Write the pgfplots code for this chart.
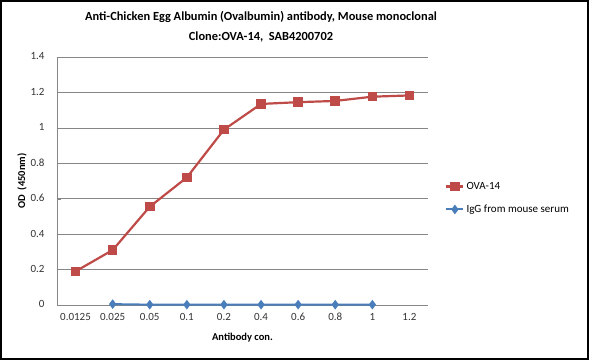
\documentclass[border=0pt]{standalone}
\usepackage{pgfplots}
\pgfplotsset{compat=1.18}
\usepackage{fontspec}
\setmainfont{Carlito}
\definecolor{exred}{HTML}{BE4B48}
\definecolor{exblue}{HTML}{4A7EBB}
\definecolor{gridg}{HTML}{868686}
\begin{document}
\begin{tikzpicture}[x=1pt,y=1pt]
\useasboundingbox (0,0) rectangle (589,360);
\draw[black,line width=2.5pt] (1,1) rectangle (588,359);
\node[font=\bfseries\fontsize{12.4}{14}\selectfont] at (261,343) {Anti-Chicken Egg Albumin (Ovalbumin) antibody, Mouse monoclonal};
\node[font=\bfseries\fontsize{12.4}{14}\selectfont] at (261,323) {Clone:OVA-14,\ \ SAB4200702};
\begin{axis}[
  at={(57pt,55pt)}, anchor=south west,
  scale only axis, width=371pt, height=248pt,
  xmin=-0.5, xmax=9.5, ymin=0, ymax=1.4,
  xtick={0,...,9},
  xticklabels={0.0125,0.025,0.05,0.1,0.2,0.4,0.6,0.8,1,1.2},
  ytick={0,0.2,...,1.4},
  yticklabels={0,0.2,0.4,0.6,0.8,1,1.2,1.4},
  axis x line*=bottom, axis y line*=left,
  axis line style={gridg,-},
  ymajorgrids, grid style={gridg,line width=0.6pt},
  major tick length=4pt,
  tick style={gridg},
  xtick style={draw=none},
  tick label style={font=\fontsize{11}{13}\selectfont, text=black!80, text height=1.5ex, text depth=0.25ex},
  xticklabel style={yshift=-5pt},
  yticklabel style={xshift=-9pt},
  /pgf/number format/assume math mode=true,
  xlabel={\bfseries Antibody con.}, ylabel={\bfseries OD\ \ (450nm)},
  label style={font=\fontsize{10.5}{12}\selectfont},
  xlabel style={at={(axis description cs:0.5,-0.133)}, anchor=center},
  ylabel style={at={(axis description cs:-0.094,0.5)}, anchor=center},
  legend style={at={(axis description cs:1.046,0.431)}, anchor=west, draw=none, fill=none,
    font=\fontsize{11}{13}\selectfont, row sep=10pt, inner sep=0pt},
  legend cell align=left,
  clip=false,
]
\addplot[exred, line width=2.2pt, mark=square*, mark size=3.7pt, mark options={fill=exred}]
coordinates {(0,0.19)(1,0.31)(2,0.555)(3,0.72)(4,0.99)(5,1.135)(6,1.145)(7,1.152)(8,1.176)(9,1.183)};
\addlegendentry{OVA-14}
\addplot[exblue, line width=2pt, mark=diamond*, mark size=3.2pt, mark options={fill=exblue}]
coordinates {(1,0.005)(2,0.002)(3,0.002)(4,0.002)(5,0.002)(6,0.002)(7,0.002)(8,0.002)};
\addlegendentry{IgG from mouse serum}
\end{axis}
\end{tikzpicture}
\end{document}
